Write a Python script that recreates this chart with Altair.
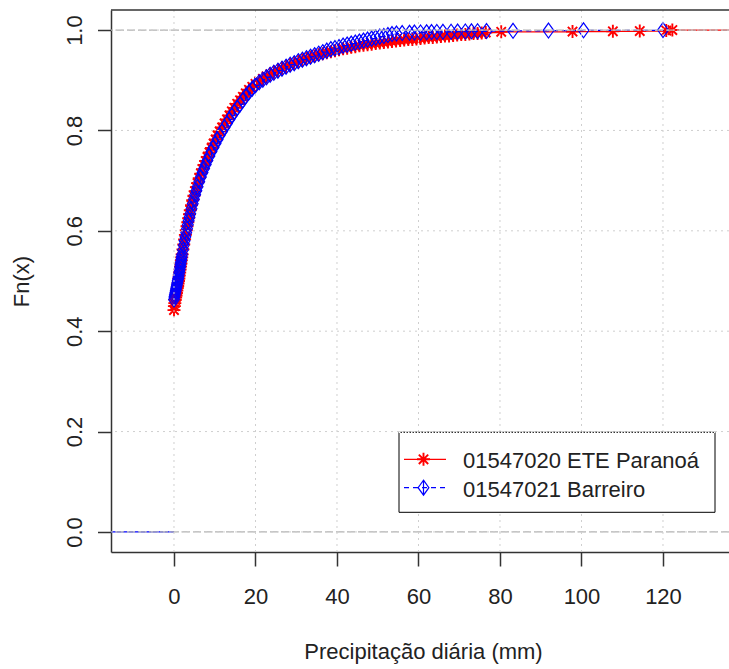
import altair as alt
import pandas as pd

# ---- data (ECDF points) ----
red_x = [0.0, 0.1, 0.2, 0.3, 0.4, 0.5, 0.6, 0.7, 0.8, 0.9, 1.0, 1.1, 1.2, 1.3, 1.4, 1.5,
         1.6, 1.7, 1.8, 1.9, 2.0, 2.2, 2.4, 2.6, 2.8, 3.0, 3.2, 3.4, 3.6, 3.8, 4.0, 4.3,
         4.6, 4.9, 5.2, 5.5, 5.8, 6.2, 6.6, 7.0, 7.4, 7.8, 8.2, 8.7, 9.2, 9.7, 10.2, 10.7,
         11.2, 11.8, 12.4, 13.0, 13.6, 14.2, 14.8, 15.5, 16.2, 16.9, 17.6, 18.4, 19.2,
         20.0, 20.9, 21.8, 22.7, 23.6, 24.5, 25.5, 26.5, 27.5, 28.5, 29.5, 30.5, 31.5,
         32.5, 33.5, 34.5, 35.5, 36.5, 37.5, 38.5, 39.5, 40.5, 41.5, 42.5, 43.5, 44.5,
         45.5, 46.5, 47.5, 48.5, 49.5, 50.5, 51.5, 52.5, 53.5, 54.5, 55.5, 56.5, 57.5,
         58.5, 59.5, 60.5, 61.5, 62.5, 63.5, 64.5, 65.5, 66.5, 67.5, 68.5, 69.5, 70.5,
         71.5, 72.5, 73.5, 74.5, 75.5, 76.5, 80.3, 97.8, 107.7, 114.3, 120.8, 122.3]
red_fn = [0.442, 0.450, 0.456, 0.462, 0.467, 0.471, 0.476, 0.481, 0.486, 0.490, 0.495, 0.500,
          0.505, 0.511, 0.517, 0.523, 0.529, 0.535, 0.541, 0.547, 0.553, 0.563, 0.573, 0.583,
          0.592, 0.601, 0.609, 0.617, 0.625, 0.633, 0.641, 0.651, 0.661, 0.670, 0.679, 0.687,
          0.695, 0.705, 0.714, 0.723, 0.731, 0.739, 0.747, 0.756, 0.765, 0.774, 0.782, 0.790,
          0.798, 0.806, 0.814, 0.822, 0.830, 0.838, 0.845, 0.853, 0.860, 0.867, 0.874, 0.881,
          0.887, 0.893, 0.898, 0.903, 0.908, 0.912, 0.916, 0.920, 0.924, 0.928, 0.931, 0.934,
          0.937, 0.940, 0.943, 0.946, 0.948, 0.951, 0.953, 0.955, 0.957, 0.959, 0.961, 0.963,
          0.964, 0.966, 0.967, 0.969, 0.970, 0.971, 0.972, 0.973, 0.974, 0.975, 0.976, 0.977,
          0.978, 0.979, 0.980, 0.981, 0.981, 0.982, 0.983, 0.984, 0.985, 0.985, 0.986, 0.987,
          0.988, 0.988, 0.989, 0.990, 0.991, 0.991, 0.992, 0.993, 0.993, 0.994, 0.995, 0.9965,
          0.997, 0.9975, 0.998, 0.999, 1.0]

blue_x = [0.0, 0.1, 0.2, 0.3, 0.4, 0.5, 0.6, 0.7, 0.8, 0.9, 1.0, 1.1, 1.2, 1.3, 1.4, 1.5,
          1.6, 1.7, 1.8, 1.9, 2.0, 2.2, 2.4, 2.6, 2.8, 3.0, 3.2, 3.4, 3.6, 3.8, 4.0, 4.3,
          4.6, 4.9, 5.2, 5.5, 5.8, 6.2, 6.6, 7.0, 7.4, 7.8, 8.2, 8.7, 9.2, 9.7, 10.2, 10.7,
          11.2, 11.8, 12.4, 13.0, 13.6, 14.2, 14.8, 15.5, 16.2, 16.9, 17.6, 18.4, 19.2,
          20.0, 20.9, 21.8, 22.7, 23.6, 24.5, 25.5, 26.5, 27.5, 28.5, 29.5, 30.5, 31.5,
          32.5, 33.5, 34.5, 35.5, 36.5, 37.5, 38.5, 39.5, 40.5, 41.5, 42.5, 43.5, 44.5,
          45.5, 46.5, 47.5, 48.5, 49.5, 50.5, 51.5, 52.5, 53.5, 54.6, 56.0, 57.8, 59.0,
          60.5, 62.0, 63.2, 64.5, 66.0, 68.0, 69.6, 71.5, 73.0, 74.5, 76.7, 83.2, 91.9,
          100.5, 120.0]
blue_fn = [0.463, 0.468, 0.472, 0.476, 0.480, 0.484, 0.488, 0.492, 0.496, 0.500, 0.504, 0.508,
           0.513, 0.518, 0.523, 0.528, 0.533, 0.538, 0.543, 0.548, 0.553, 0.562, 0.571, 0.580,
           0.588, 0.596, 0.604, 0.612, 0.620, 0.627, 0.634, 0.644, 0.654, 0.663, 0.672, 0.680,
           0.688, 0.698, 0.707, 0.716, 0.724, 0.732, 0.740, 0.749, 0.758, 0.766, 0.774, 0.782,
           0.790, 0.798, 0.806, 0.814, 0.822, 0.830, 0.837, 0.845, 0.852, 0.860, 0.868, 0.876,
           0.883, 0.890, 0.896, 0.901, 0.906, 0.911, 0.915, 0.919, 0.923, 0.927, 0.931, 0.934,
           0.938, 0.941, 0.944, 0.947, 0.950, 0.953, 0.956, 0.959, 0.962, 0.964, 0.966, 0.969,
           0.971, 0.973, 0.975, 0.977, 0.979, 0.981, 0.983, 0.985, 0.987, 0.988, 0.990, 0.992,
           0.993, 0.994, 0.9945, 0.995, 0.9952, 0.9955, 0.996, 0.9962, 0.9965, 0.9967, 0.997,
           0.9972, 0.9975, 0.9977, 0.998, 0.9985, 0.999, 0.9995, 1.0]

series_labels = ["01547020 ETE Paranoá", "01547021 Barreiro"]
x_ticks = [0, 20, 40, 60, 80, 100, 120]
y_ticks = [0.0, 0.2, 0.4, 0.6, 0.8, 1.0]
x_domain = [-15.46, 136.2]
y_domain = [-0.04, 1.04]
ref_levels = [0.0, 1.0]

FONT = "Liberation Sans"
TXT = "#222222"
AX = "#333333"
W, H = 618, 542

red_df = pd.DataFrame({"x": red_x, "fn": red_fn})
blue_df = pd.DataFrame({"x": blue_x, "fn": blue_fn})
# horizontal tails of the step functions (to the plot edges)
blue_tail = pd.DataFrame({"x": [x_domain[0]], "x2": [blue_x[0]], "fn": [0.0]})
red_tail = pd.DataFrame({"x": [red_x[-1]], "x2": [x_domain[1]], "fn": [1.0]})
vgrid = pd.DataFrame({"x": x_ticks})
hgrid = pd.DataFrame({"fn": y_ticks})
refs = pd.DataFrame({"fn": ref_levels})
one = pd.DataFrame({"a": [0]})

xs = alt.Scale(domain=x_domain, nice=False, zero=False)
ys = alt.Scale(domain=y_domain, nice=False, zero=False)

x_axis = alt.Axis(values=x_ticks, title="Precipitação diária (mm)", grid=False,
                  domainColor=AX, domainWidth=1.5, tickColor=AX, tickWidth=1.5, tickSize=14,
                  labelFont=FONT, labelFontSize=22, labelColor=TXT, labelPadding=20,
                  labelFlush=False, labelOverlap=False,
                  titleFont=FONT, titleFontSize=22, titleFontWeight="normal", titleColor=TXT,
                  titleX=312, titleY=106, titleBaseline="alphabetic", titleAlign="center")
y_axis = alt.Axis(values=y_ticks, format=".1f", title="Fn(x)", grid=False,
                  domainColor=AX, domainWidth=1.5, tickColor=AX, tickWidth=1.5, tickSize=13.5,
                  labelFont=FONT, labelFontSize=22, labelColor=TXT, labelPadding=16,
                  labelAngle=270, labelAlign="center", labelBaseline="alphabetic",
                  labelFlush=False, labelOverlap=False,
                  titleFont=FONT, titleFontSize=22, titleFontWeight="normal", titleColor=TXT,
                  titleAngle=270, titleX=-82.6, titleY=271, titleBaseline="alphabetic",
                  titleAlign="center")

X = alt.X("x:Q", scale=xs, axis=x_axis)
Y = alt.Y("fn:Q", scale=ys, axis=y_axis)

ASTER = "M-1,0L1,0M0,-1L0,1M-0.72,-0.72L0.72,0.72M-0.72,0.72L0.72,-0.72"
DIAMOND = "M0,-1L0.72,0L0,1L-0.72,0Z"
DIAPLUS = "M0,-1L0.72,0L0,1L-0.72,0Z M0,-1L0,1"

red_line = alt.Chart(red_df).mark_line(interpolate="step-after", color="#ff0000",
                                       strokeWidth=1.3).encode(x=X, y=Y)
red_pts = alt.Chart(red_df).mark_point(shape=ASTER, size=169, filled=False, color="#ff0000",
                                       strokeWidth=1.9, opacity=1).encode(x=X, y=Y)
blue_line = alt.Chart(blue_df).mark_line(interpolate="step-after", color="#0000ff",
                                         strokeWidth=1.3, strokeDash=[5, 4]).encode(x=X, y=Y)
blue_pts = alt.Chart(blue_df).mark_point(shape=DIAMOND, size=225, filled=False,
                                         color="#0000ff", strokeWidth=1.2,
                                         opacity=1).encode(x=X, y=Y)
blue_ext = alt.Chart(blue_tail).mark_rule(color="#0000ff", strokeWidth=1.3).encode(
    x=X, x2="x2:Q", y=Y)
red_ext = alt.Chart(red_tail).mark_rule(color="#ff0000", strokeWidth=1.3).encode(
    x=X, x2="x2:Q", y=Y)
ref_lines = alt.Chart(refs).mark_rule(color="#b3b3b3", strokeWidth=1.2,
                                      strokeDash=[8, 3]).encode(y=Y)
vg = alt.Chart(vgrid).mark_rule(color="#cfcfcf", strokeWidth=1,
                                strokeDash=[2, 4]).encode(x=X)
hg = alt.Chart(hgrid).mark_rule(color="#cfcfcf", strokeWidth=1,
                                strokeDash=[2, 4]).encode(y=Y)
top_border = alt.Chart(one).mark_rule(color=AX, strokeWidth=1.5).encode(
    x=alt.value(0), x2=alt.value(W), y=alt.value(0))

# ---- legend (drawn by hand, like R's legend()) ----
leg_box = alt.Chart(one).mark_rect(fill="white", stroke="black", strokeWidth=1).encode(
    x=alt.value(288), x2=alt.value(604), y=alt.value(422.3), y2=alt.value(502.3))
leg_top = alt.Chart(one).mark_rule(color="white", strokeWidth=1.2, strokeDash=[1.5, 1.5]).encode(
    x=alt.value(288), x2=alt.value(604), y=alt.value(422.3))
leg_l1 = alt.Chart(one).mark_rule(color="#ff0000", strokeWidth=1.3).encode(
    x=alt.value(293), x2=alt.value(335), y=alt.value(449.3))
leg_l2 = alt.Chart(one).mark_rule(color="#0000ff", strokeWidth=1.3, strokeDash=[5, 4]).encode(
    x=alt.value(293), x2=alt.value(335), y=alt.value(477.7))
leg_s1 = alt.Chart(one).mark_point(shape=ASTER, size=169, filled=False, color="#ff0000",
                                   strokeWidth=1.9, opacity=1).encode(
    x=alt.value(312.5), y=alt.value(449.3))
leg_s2 = alt.Chart(one).mark_point(shape=DIAPLUS, size=225, filled=False, color="#0000ff",
                                   strokeWidth=1.2, opacity=1).encode(
    x=alt.value(312.5), y=alt.value(477.7))
leg_t1 = alt.Chart(one).mark_text(align="left", baseline="alphabetic", font=FONT, fontSize=22,
                                  color=TXT).encode(
    x=alt.value(352), y=alt.value(458), text=alt.value(series_labels[0]))
leg_t2 = alt.Chart(one).mark_text(align="left", baseline="alphabetic", font=FONT, fontSize=22,
                                  color=TXT).encode(
    x=alt.value(352), y=alt.value(486.7), text=alt.value(series_labels[1]))

chart = alt.layer(
    red_line, red_pts, blue_line, blue_pts, blue_ext, red_ext, ref_lines, vg, hg,
    top_border, leg_box, leg_top, leg_l1, leg_l2, leg_s1, leg_s2, leg_t1, leg_t2
).properties(
    width=W, height=H,
    autosize=alt.AutoSizeParams(type="none"),
    padding={"left": 111, "top": 10, "right": 0, "bottom": 117},
    background="white",
).configure_view(stroke=None)

chart.save("out.html", embed_options={"renderer": "svg", "actions": False})
